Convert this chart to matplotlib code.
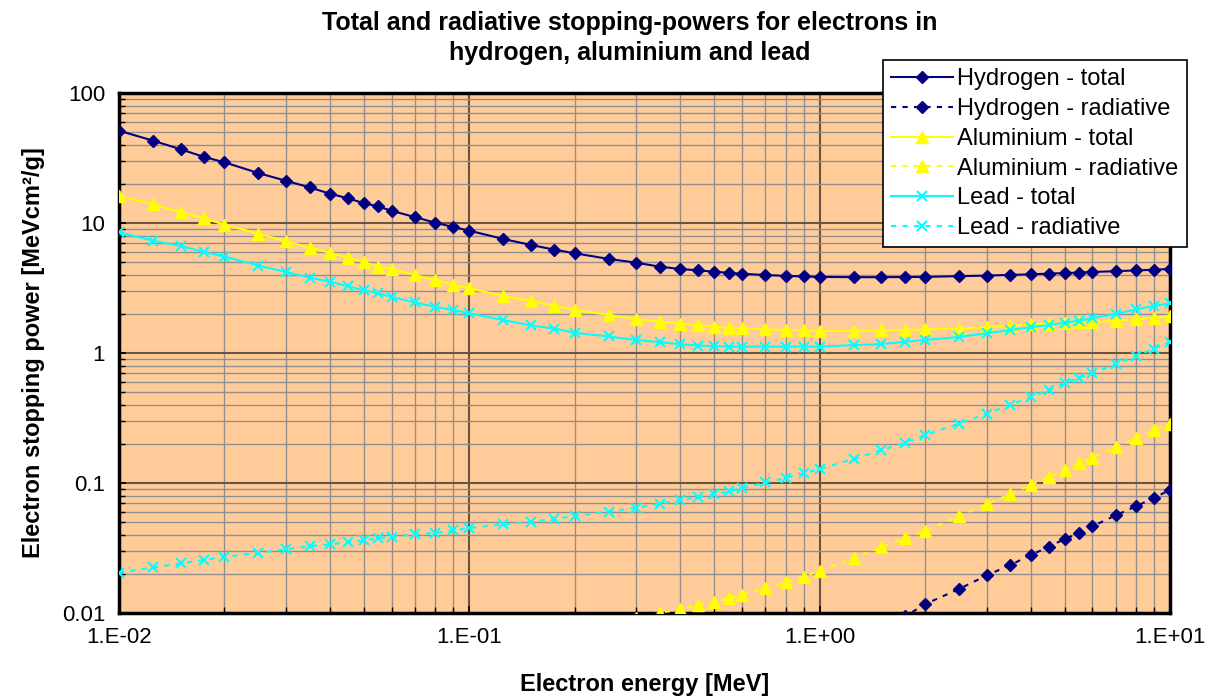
import numpy as np
import matplotlib
matplotlib.use("Agg")
import matplotlib.pyplot as plt
from matplotlib.ticker import FixedLocator, LogLocator, NullFormatter

plt.rcParams["font.family"] = ["Liberation Sans", "DejaVu Sans"]

# electron energies [MeV]
energy = [0.01, 0.0125, 0.015, 0.0175, 0.02, 0.025, 0.03, 0.035, 0.04, 0.045,
          0.05, 0.055, 0.06, 0.07, 0.08, 0.09, 0.1, 0.125, 0.15, 0.175, 0.2,
          0.25, 0.3, 0.35, 0.4, 0.45, 0.5, 0.55, 0.6, 0.7, 0.8, 0.9, 1.0,
          1.25, 1.5, 1.75, 2.0, 2.5, 3.0, 3.5, 4.0, 4.5, 5.0, 5.5, 6.0, 7.0,
          8.0, 9.0, 10.0]

h_total = [51.3, 43.0, 36.9, 32.2, 29.3, 24.2, 21.1, 18.8, 16.8, 15.5, 14.2,
           13.4, 12.4, 11.1, 10.05, 9.31, 8.73,
           7.53, 6.78, 6.23, 5.85, 5.29, 4.95, 4.61, 4.43, 4.32, 4.22, 4.14,
           4.07, 3.98, 3.92, 3.88, 3.85,
           3.83, 3.83, 3.84, 3.85, 3.90, 3.94, 3.99, 4.03, 4.08, 4.12, 4.16,
           4.20, 4.26, 4.32, 4.37, 4.43]
h_rad = [0.0078, 0.0094, 0.0117, 0.0153, 0.0195, 0.0234, 0.0279, 0.0322,
         0.0371, 0.0410, 0.0464, 0.0564, 0.0662, 0.0770, 0.0883]

al_total = [16.2, 13.9, 12.1, 10.9, 9.71, 8.27, 7.23, 6.46, 5.91, 5.41, 5.01,
            4.61, 4.43, 3.98, 3.62, 3.35, 3.15,
            2.74, 2.51, 2.31, 2.15, 1.96, 1.83, 1.74, 1.68, 1.63, 1.59, 1.56,
            1.55, 1.52, 1.50, 1.49, 1.48,
            1.48, 1.49, 1.50, 1.52, 1.54, 1.58, 1.62, 1.67, 1.68, 1.69, 1.72,
            1.73, 1.77, 1.82, 1.85, 1.93]
al_rad = [0.0084, 0.0092, 0.0100, 0.0107, 0.0115, 0.0122, 0.0130, 0.0138,
          0.0155, 0.0172, 0.0190, 0.0212,
          0.0264, 0.0320, 0.0376, 0.0427, 0.0557, 0.0686, 0.0822, 0.0966,
          0.111, 0.125, 0.142, 0.157, 0.189, 0.222, 0.254, 0.286]

pb_total = [8.48, 7.31, 6.65, 5.98, 5.51, 4.70, 4.20, 3.80, 3.54, 3.26, 3.04,
            2.88, 2.70, 2.45, 2.26, 2.14, 2.02,
            1.79, 1.63, 1.54, 1.43, 1.34, 1.26, 1.21, 1.17, 1.14, 1.13, 1.12,
            1.12, 1.12, 1.12, 1.12, 1.12,
            1.15, 1.17, 1.22, 1.26, 1.33, 1.42, 1.50, 1.58, 1.64, 1.71, 1.77,
            1.85, 2.00, 2.17, 2.30, 2.41]
pb_rad = [0.0204, 0.0224, 0.0241, 0.0256, 0.0270, 0.0290, 0.0309, 0.0326,
          0.0338, 0.0350, 0.0362, 0.0376, 0.0385, 0.0403, 0.0412, 0.0432, 0.0451,
          0.0481, 0.0504, 0.0529, 0.0557, 0.0602, 0.0646, 0.0693, 0.0736,
          0.0776, 0.0818, 0.0863, 0.0910, 0.101, 0.109, 0.119, 0.128,
          0.153, 0.179, 0.204, 0.234, 0.286, 0.341, 0.400, 0.459, 0.519,
          0.585, 0.646, 0.698, 0.823, 0.948, 1.08, 1.22]

x_ticks = [0.01, 0.1, 1, 10]
x_labels = ["1.E-02", "1.E-01", "1.E+00", "1.E+01"]
y_ticks = [0.01, 0.1, 1, 10, 100]
y_labels = ["0.01", "0.1", "1", "10", "100"]

NAVY = "#000080"
YELLOW = "#FFFF00"
CYAN = "#00FFFF"
DASH = (0, (2.5, 3))

fig = plt.figure(figsize=(12.13, 7.0), dpi=100)
ax = fig.add_axes([119 / 1213, 87 / 700, 1051 / 1213, 520 / 700])
ax.set_facecolor("#FFCC99")

ax.plot(energy, h_total, color=NAVY, lw=1.5, marker="D", ms=6,
        label="Hydrogen - total", zorder=5)
ax.plot(energy[-len(h_rad):], h_rad, color=NAVY, lw=1.5, ls=DASH, marker="D",
        ms=6, label="Hydrogen - radiative", zorder=5)
ax.plot(energy, al_total, color=YELLOW, lw=1.5, marker="^", ms=8,
        label="Aluminium - total", zorder=5)
ax.plot(energy[-len(al_rad):], al_rad, color=YELLOW, lw=1.5, ls=DASH,
        marker="^", ms=8, label="Aluminium - radiative", zorder=5)
ax.plot(energy, pb_total, color=CYAN, lw=1.5, marker="x", ms=7, mew=1.5,
        label="Lead - total", zorder=5)
ax.plot(energy, pb_rad, color=CYAN, lw=1.5, ls=DASH, marker="x", ms=7,
        mew=1.5, label="Lead - radiative", zorder=5)

ax.set_xscale("log")
ax.set_yscale("log")
ax.set_xlim(0.01, 10)
ax.set_ylim(0.01, 100)

ax.xaxis.set_major_locator(FixedLocator(x_ticks))
ax.set_xticklabels(x_labels)
ax.yaxis.set_major_locator(FixedLocator(y_ticks))
ax.set_yticklabels(y_labels)
ax.xaxis.set_minor_locator(LogLocator(base=10, subs=np.arange(2, 10)))
ax.yaxis.set_minor_locator(LogLocator(base=10, subs=np.arange(2, 10)))
ax.xaxis.set_minor_formatter(NullFormatter())
ax.yaxis.set_minor_formatter(NullFormatter())

ax.grid(which="minor", color="#8f8f8f", lw=1.0)
ax.grid(which="major", color="#6b5440", lw=1.5)
ax.set_axisbelow(True)

ax.tick_params(which="major", direction="in", length=5, width=1.2,
               labelsize=16, pad=10)
ax.tick_params(which="minor", direction="in", length=4, width=1.0)
for sp in ax.spines.values():
    sp.set_linewidth(2.5)
    sp.set_color("black")

ax.set_xlabel("Electron energy [MeV]", fontsize=17, fontweight="bold",
              labelpad=18)
ax.set_ylabel("Electron stopping power [MeVcm²/g]", fontsize=17,
              fontweight="bold", labelpad=12)

fig.text(630 / 1213, 1 - 38 / 700,
         "Total and radiative stopping-powers for electrons in\nhydrogen, aluminium and lead",
         ha="center", va="center", fontsize=18, fontweight="bold",
         linespacing=1.35)

leg = ax.legend(loc="upper right", bbox_to_anchor=(1187 / 1213, 1 - 60 / 700),
                bbox_transform=fig.transFigure, fontsize=17, frameon=True,
                fancybox=False, shadow=False, framealpha=1, edgecolor="black",
                handlelength=2.6, handletextpad=0.2, labelspacing=0.33,
                borderpad=0.35, borderaxespad=0)
leg.get_frame().set_linewidth(1.2)
leg.set_zorder(10)

fig.savefig("out.png", dpi=100, facecolor="white")
